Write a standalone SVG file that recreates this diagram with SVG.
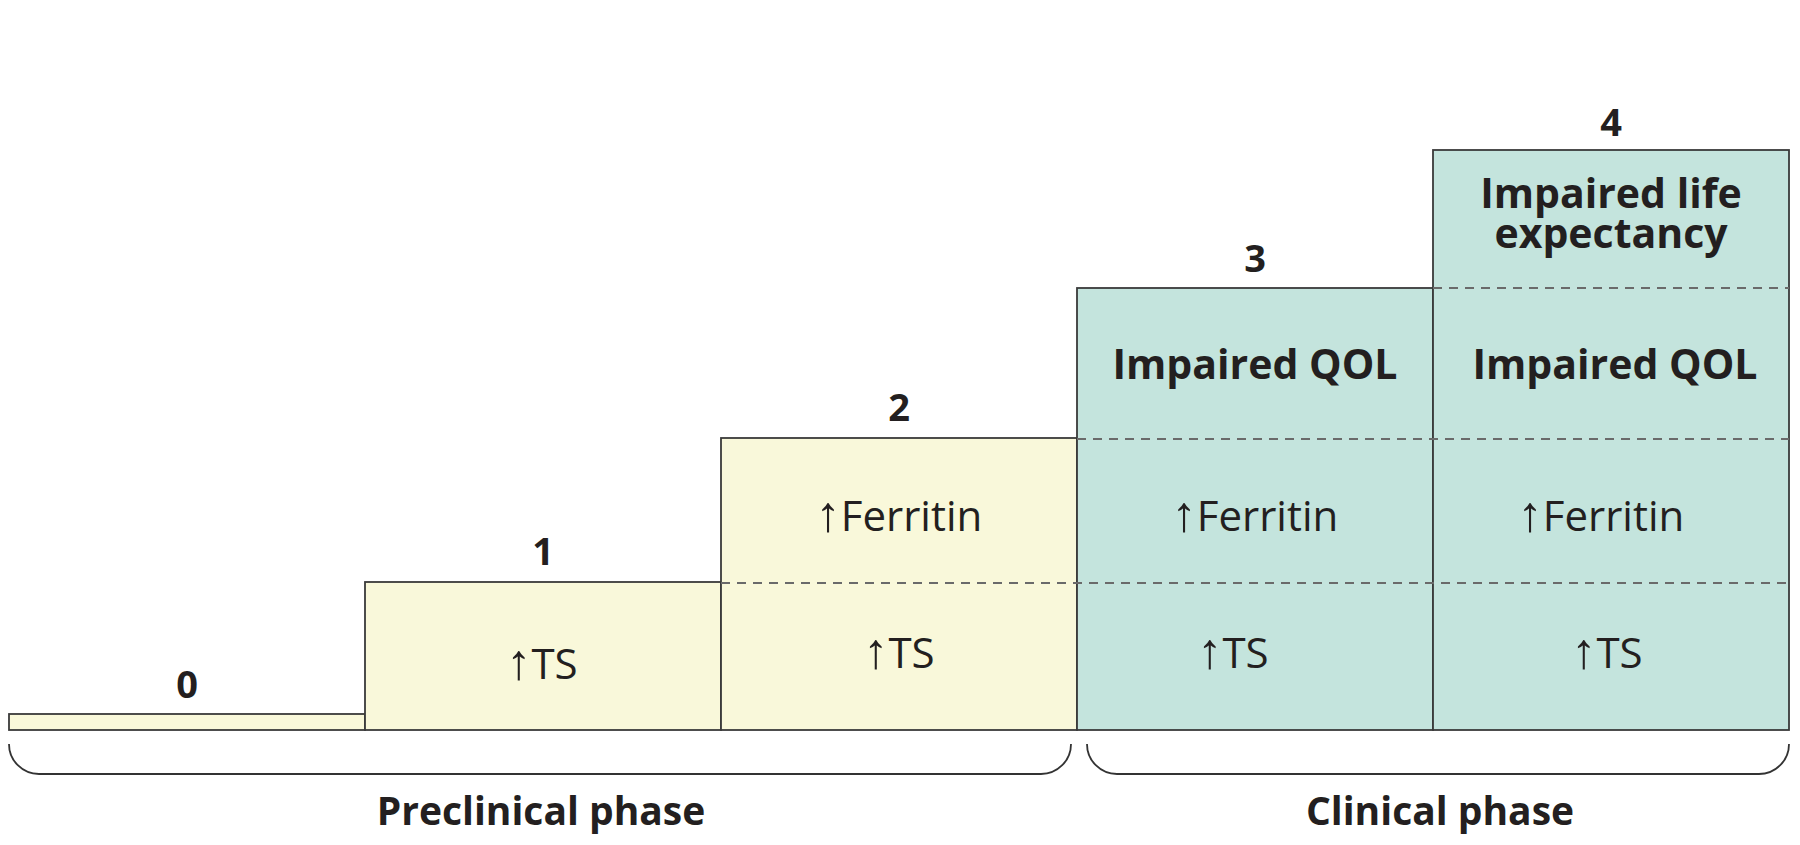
<svg xmlns="http://www.w3.org/2000/svg" width="1800" height="845" viewBox="0 0 1800 845">
<style>
.pre{fill:#f9f8da;stroke:#3a3a3a;stroke-width:1.8}
.cli{fill:#c4e4dd;stroke:#3a3a3a;stroke-width:1.8}
.dash{fill:none;stroke:#6a6a6a;stroke-width:1.8;stroke-dasharray:9 7}
.br{fill:none;stroke:#333;stroke-width:1.8}
.num{font-family:"Open Sans","Liberation Sans",sans-serif;font-weight:700;font-size:38px;fill:#231f20;text-anchor:middle}
.bold{font-family:"Open Sans","Liberation Sans",sans-serif;font-weight:700;font-size:41px;fill:#231f20;text-anchor:middle}
.reg{font-family:"Open Sans","Liberation Sans",sans-serif;font-weight:400;font-size:42px;fill:#231f20;text-anchor:middle}
.arr{font-family:"Liberation Sans",sans-serif;font-size:50px}
.phase{font-family:"Open Sans","Liberation Sans",sans-serif;font-weight:700;font-size:39px;fill:#231f20;text-anchor:middle}
</style>
<g id="stage0">
<rect class="pre" x="9" y="714" width="356" height="16"/>
<text class="num" x="187" y="698">0</text>
</g>
<g id="stage1">
<rect class="pre" x="365" y="582" width="356" height="148"/>
<text class="num" x="543" y="565">1</text>
<text class="reg" x="542" y="679"><tspan class="arr">↑</tspan>TS</text>
</g>
<g id="stage2">
<rect class="pre" x="721" y="438" width="356" height="292"/>
<text class="num" x="899" y="421">2</text>
<text class="reg" x="899" y="531"><tspan class="arr">↑</tspan>Ferritin</text>
<text class="reg" x="899" y="668"><tspan class="arr">↑</tspan>TS</text>
</g>
<g id="stage3">
<rect class="cli" x="1077" y="288" width="356" height="442"/>
<text class="num" x="1255" y="272">3</text>
<text class="bold" x="1255" y="379">Impaired QOL</text>
<text class="reg" x="1255" y="531"><tspan class="arr">↑</tspan>Ferritin</text>
<text class="reg" x="1233" y="668"><tspan class="arr">↑</tspan>TS</text>
</g>
<g id="stage4">
<rect class="cli" x="1433" y="150" width="356" height="580"/>
<text class="num" x="1611" y="136">4</text>
<text class="bold" x="1611" y="208">Impaired life<tspan x="1611" dy="40">expectancy</tspan></text>
<text class="bold" x="1615" y="379">Impaired QOL</text>
<text class="reg" x="1601" y="531"><tspan class="arr">↑</tspan>Ferritin</text>
<text class="reg" x="1607" y="668"><tspan class="arr">↑</tspan>TS</text>
</g>
<g id="connectors">
<line class="dash" x1="721" y1="583" x2="1789" y2="583"/>
<line class="dash" x1="1077" y1="439" x2="1789" y2="439"/>
<line class="dash" x1="1433" y1="288" x2="1789" y2="288"/>
<path class="br" d="M9 744 A30 30 0 0 0 39 774 L1041 774 A30 30 0 0 0 1071 744"/>
<path class="br" d="M1087 744 A30 30 0 0 0 1117 774 L1759 774 A30 30 0 0 0 1789 744"/>
</g>
<g id="phases">
<text class="phase" x="541" y="825">Preclinical phase</text>
<text class="phase" x="1440" y="825">Clinical phase</text>
</g>
</svg>
